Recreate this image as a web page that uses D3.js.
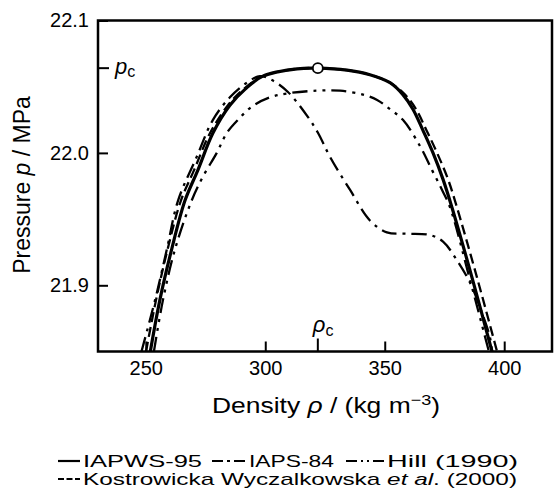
<!DOCTYPE html>
<html>
<head>
<meta charset="utf-8">
<script src="https://cdn.jsdelivr.net/npm/d3@7"></script>
<style>
  html, body { margin: 0; padding: 0; background: #fff; }
  svg { display: block; font-family: "Liberation Sans", Arial, Helvetica, sans-serif; }
</style>
</head>
<body>
<svg id="chart" width="556" height="489"></svg>
<script>
// ---- data (density kg/m^3, pressure MPa) ----
const iapws95Rho = [251.9, 255.9, 260.8, 266.4, 271.8, 278.1, 285.2, 291.5, 299.0, 313.3, 322.0, 334.2, 343.8, 352.2, 357.6, 361.8, 366.0, 370.2, 374.4, 378.1, 386.5, 394.9];
const iapws95P   = [21.850, 21.889, 21.927, 21.964, 21.987, 22.015, 22.036, 22.048, 22.058, 22.0635, 22.064, 22.0625, 22.059, 22.053, 22.044, 22.033, 22.017, 22.000, 21.980, 21.959, 21.906, 21.850];

const iaps84Rho = [248.2, 253.9, 258.8, 263.5, 271.3, 278.1, 285.2, 291.5, 297.8, 302.8, 309.5, 317.9, 322.1, 327.1, 335.5, 343.8, 350.9, 359.3, 368.9, 374.4, 380.2, 385.7, 389.9, 394.0, 394.9];
const iaps84P   = [21.850, 21.889, 21.927, 21.964, 21.997, 22.025, 22.042, 22.052, 22.058, 22.055, 22.046, 22.027, 22.015, 21.997, 21.972, 21.949, 21.940, 21.939, 21.938, 21.933, 21.919, 21.902, 21.883, 21.861, 21.850];

const hillRho = [253.4, 257.2, 262.2, 269.2, 273.9, 279.7, 283.9, 288.6, 294.4, 302.0, 309.5, 321.6, 331.3, 340.9, 346.8, 352.2, 357.6, 364.8, 369.8, 374.0, 377.3, 385.7, 393.6];
const hillP   = [21.850, 21.889, 21.927, 21.964, 21.982, 22.000, 22.015, 22.025, 22.035, 22.042, 22.045, 22.047, 22.047, 22.044, 22.040, 22.033, 22.025, 22.005, 21.987, 21.972, 21.959, 21.904, 21.850];

const kwRho = [250.1, 254.3, 259.1, 264.7, 270.2, 276.9, 284.4, 291.1, 299.0, 313.3, 322.0, 334.2, 343.8, 352.2, 358.5, 363.1, 367.5, 371.9, 376.5, 380.2, 388.6, 397.0];
const kwP   = [21.850, 21.889, 21.927, 21.964, 21.987, 22.015, 22.036, 22.0485, 22.058, 22.0636, 22.064, 22.0625, 22.059, 22.053, 22.044, 22.033, 22.017, 22.000, 21.980, 21.959, 21.906, 21.850];

const criticalRho = 322;
const criticalP = 22.064;

const xTicks = [250, 300, 350, 400];
const yTicks = [21.9, 22.0, 22.1];
const xDomain = [230, 420];
const yDomain = [21.85, 22.1];

const seriesNames = ["IAPWS-95", "IAPS-84", "Hill (1990)", "Kostrowicka Wyczalkowska et al. (2000)"];

// ---- layout ----
const svg = d3.select("#chart");
const L = 98, R = 552, T = 20.5, B = 351.5;
const x = d3.scaleLinear().domain(xDomain).range([L, R]);
const y = d3.scaleLinear().domain(yDomain).range([B, T]);

const styles = {
  "IAPWS-95": { w: 3.2, dash: null, legDash: null, legLen: 22 },
  "IAPS-84": { w: 2.3, dash: "15,6,3,6", legDash: "11,4,3,4", legLen: 34 },
  "Hill (1990)": { w: 2.3, dash: "15,6,3,6,3,6", legDash: "11,4,2,4,2,4", legLen: 38 },
  "Kostrowicka Wyczalkowska et al. (2000)": { w: 2.3, dash: "10,5", legDash: "6,2.5", legLen: 22 }
};

const series = [
  { name: seriesNames[0], rho: iapws95Rho, p: iapws95P },
  { name: seriesNames[1], rho: iaps84Rho, p: iaps84P },
  { name: seriesNames[2], rho: hillRho, p: hillP },
  { name: seriesNames[3], rho: kwRho, p: kwP }
];

svg.append("defs").append("clipPath").attr("id", "clip")
  .append("rect").attr("x", L).attr("y", T).attr("width", R - L).attr("height", B - T);

const line = d3.line().x(d => x(d[0])).y(d => y(d[1])).curve(d3.curveCatmullRom.alpha(0.5));

const plot = svg.append("g").attr("clip-path", "url(#clip)");
[series[3], series[2], series[1], series[0]].forEach(s => {
  const pts = s.rho.map((r, i) => [r, s.p[i]]);
  const st = styles[s.name];
  plot.append("path")
    .attr("d", line(pts))
    .attr("fill", "none")
    .attr("stroke", "#000")
    .attr("stroke-width", st.w)
    .attr("stroke-dasharray", st.dash)
    .attr("stroke-linejoin", "round");
});

// critical point marker
svg.append("circle")
  .attr("cx", x(criticalRho)).attr("cy", y(criticalP)).attr("r", 5)
  .attr("fill", "#fff").attr("stroke", "#000").attr("stroke-width", 1.8);

// ---- axes ----
const fs = 20;
const xAxis = d3.axisBottom(x).tickValues(xTicks).tickSize(-10).tickPadding(9).tickFormat(d3.format("d"));
const yAxis = d3.axisLeft(y).tickValues(yTicks).tickSize(-10).tickPadding(9).tickFormat(d3.format(".1f"));

const gx = svg.append("g").attr("transform", `translate(0,${B})`).call(xAxis);
const gy = svg.append("g").attr("transform", `translate(${L},0)`).call(yAxis);
[gx, gy].forEach(g => {
  g.select(".domain").remove();
  g.selectAll(".tick line").attr("stroke", "#000").attr("stroke-width", 2);
  g.selectAll(".tick text").attr("fill", "#000").style("font-size", fs + "px");
});

// frame
svg.append("rect").attr("x", L).attr("y", T).attr("width", R - L).attr("height", B - T)
  .attr("fill", "none").attr("stroke", "#000").attr("stroke-width", 2.5);

// p_c tick and label
svg.append("line").attr("x1", L).attr("x2", L + 11).attr("y1", y(criticalP)).attr("y2", y(criticalP))
  .attr("stroke", "#000").attr("stroke-width", 2);
const pcT = svg.append("text").attr("x", L + 17).attr("y", y(criticalP) + 6)
  .style("font-size", "22px");
pcT.append("tspan").style("font-style", "italic").text("p");
pcT.append("tspan").attr("dy", 3).style("font-size", "16px").text("c");

// rho_c tick and label
svg.append("line").attr("x1", x(criticalRho)).attr("x2", x(criticalRho)).attr("y1", B).attr("y2", B - 13)
  .attr("stroke", "#000").attr("stroke-width", 2);
const rcT = svg.append("text").attr("x", x(criticalRho) - 5).attr("y", B - 20)
  .style("font-size", "22px");
rcT.append("tspan").style("font-style", "italic").text("ρ");
rcT.append("tspan").attr("dy", 4).style("font-size", "16px").text("c");

// axis titles
const xt = svg.append("text").attr("x", 212).attr("y", 413)
  .attr("textLength", 228).attr("lengthAdjust", "spacingAndGlyphs")
  .style("font-size", "22px");
xt.append("tspan").text("Density ");
xt.append("tspan").style("font-style", "italic").text("ρ");
xt.append("tspan").text(" / (kg m");
xt.append("tspan").attr("dy", -8).style("font-size", "15px").text("−3");
xt.append("tspan").attr("dy", 8).text(")");

const yt = svg.append("text").attr("transform", `translate(30,185) rotate(-90)`)
  .attr("text-anchor", "middle").style("font-size", "23px");
yt.append("tspan").text("Pressure ");
yt.append("tspan").style("font-style", "italic").text("p");
yt.append("tspan").text(" / MPa");

// ---- legend ----
const lg = svg.append("g").style("font-size", "17px");
function legendItem(x0, yy, name, textEnd, label) {
  const st = styles[name];
  lg.append("line").attr("x1", x0).attr("x2", x0 + st.legLen).attr("y1", yy - 6).attr("y2", yy - 6)
    .attr("stroke", "#000").attr("stroke-width", st.w > 3 ? 2.2 : 2)
    .attr("stroke-dasharray", st.legDash);
  const tx = x0 + st.legLen + 3;
  const t = lg.append("text").attr("x", tx).attr("y", yy)
    .attr("textLength", textEnd - tx).attr("lengthAdjust", "spacingAndGlyphs");
  label(t);
}
legendItem(58, 467, seriesNames[0], 202, t => t.text("IAPWS-95"));
legendItem(212, 467, seriesNames[1], 334, t => t.text("IAPS-84"));
legendItem(346, 467, seriesNames[2], 518, t => t.text("Hill (1990)"));
legendItem(58, 485, seriesNames[3], 517, t => {
  t.append("tspan").text("Kostrowicka Wyczalkowska ");
  t.append("tspan").style("font-style", "italic").text("et al");
  t.append("tspan").text(". (2000)");
});
</script>
</body>
</html>
